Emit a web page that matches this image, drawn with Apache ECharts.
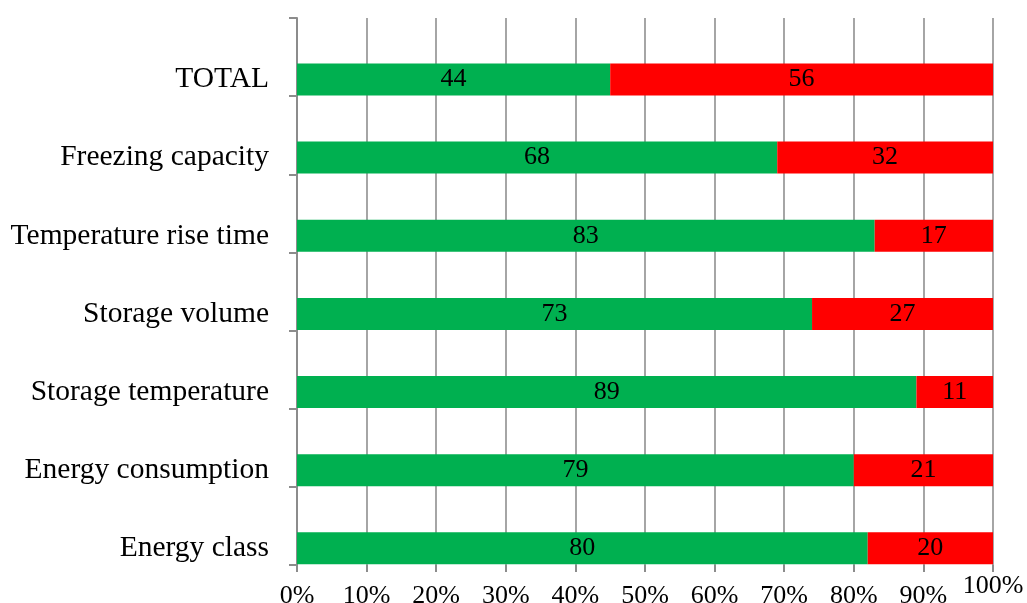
<!DOCTYPE html>
<html>
<head>
<meta charset="utf-8">
<script src="https://cdn.jsdelivr.net/npm/echarts@6/dist/echarts.min.js"></script>
<style>
html,body{margin:0;padding:0;background:#fff;}
#chart{width:1027px;height:603px;}
</style>
</head>
<body>
<div id="chart"></div>
<script>
// Categories listed top to bottom
const categories = ['TOTAL', 'Freezing capacity', 'Temperature rise time', 'Storage volume', 'Storage temperature', 'Energy consumption', 'Energy class'];
// Bar lengths as drawn (share, %)
const yesShare = [45, 69, 83, 74, 89, 80, 82];
const noShare  = [55, 31, 17, 26, 11, 20, 18];
// Printed data labels
const yesLabels = [44, 68, 83, 73, 89, 79, 80];
const noLabels  = [56, 32, 17, 27, 11, 21, 20];
const xTicks = [0, 10, 20, 30, 40, 50, 60, 70, 80, 90, 100];

const FONT = "'Liberation Serif', 'Times New Roman', serif";
const chart = echarts.init(document.getElementById('chart'));

const labelStyle = (arr) => ({
  show: true, position: 'inside', color: '#000', fontFamily: FONT, fontSize: 26,
  formatter: p => String(arr[p.dataIndex])
});

chart.setOption({
  backgroundColor: '#fff',
  animation: false,
  grid: { left: 297, right: 34, top: 18, bottom: 38, containLabel: false, outerBoundsMode: 'none' },
  xAxis: [{
    type: 'value', min: xTicks[0], max: xTicks[xTicks.length - 1], interval: 10,
    axisLine: { show: false },
    axisTick: { show: true, length: 7, lineStyle: { color: '#8c8c8c', width: 2 } },
    splitLine: { show: true, lineStyle: { color: '#969696', width: 1.7 } },
    axisLabel: {
      margin: 18, color: '#000', fontFamily: FONT, fontSize: 26, hideOverlap: false,
      showMinLabel: true, showMaxLabel: true,
      formatter: v => (v === 100 ? '' : v + '%')
    }
  }, {
    type: 'value', position: 'bottom', min: xTicks[0], max: xTicks[xTicks.length - 1], interval: 10,
    axisLine: { show: false }, axisTick: { show: false }, splitLine: { show: false },
    axisLabel: {
      margin: 8, color: '#000', fontFamily: FONT, fontSize: 26, hideOverlap: false,
      showMinLabel: true, showMaxLabel: true,
      formatter: v => (v === 100 ? '100%' : '')
    }
  }],
  yAxis: {
    type: 'category', data: categories, inverse: true,
    axisLine: { show: true, lineStyle: { color: '#8c8c8c', width: 2 } },
    axisTick: { show: true, length: 8, lineStyle: { color: '#8c8c8c', width: 2 } },
    axisLabel: {
      margin: 28, color: '#000', fontFamily: FONT, fontSize: 29.5, lineHeight: 45,
      verticalAlign: 'middle', interval: 0, hideOverlap: false,
      showMinLabel: true, showMaxLabel: true,
      formatter: v => '\n' + v
    }
  },
  series: [
    { type: 'bar', stack: 'pad', silent: true, barWidth: 32, barGap: '40%', data: categories.map(() => '-') },
    { name: 'Yes', type: 'bar', stack: 'a', barWidth: 32, barGap: '40%', data: yesShare,
      itemStyle: { color: '#00B050' }, label: labelStyle(yesLabels) },
    { name: 'No', type: 'bar', stack: 'a', barWidth: 32, barGap: '40%', data: noShare,
      itemStyle: { color: '#FF0000' }, label: labelStyle(noLabels) }
  ]
});
</script>
</body>
</html>
